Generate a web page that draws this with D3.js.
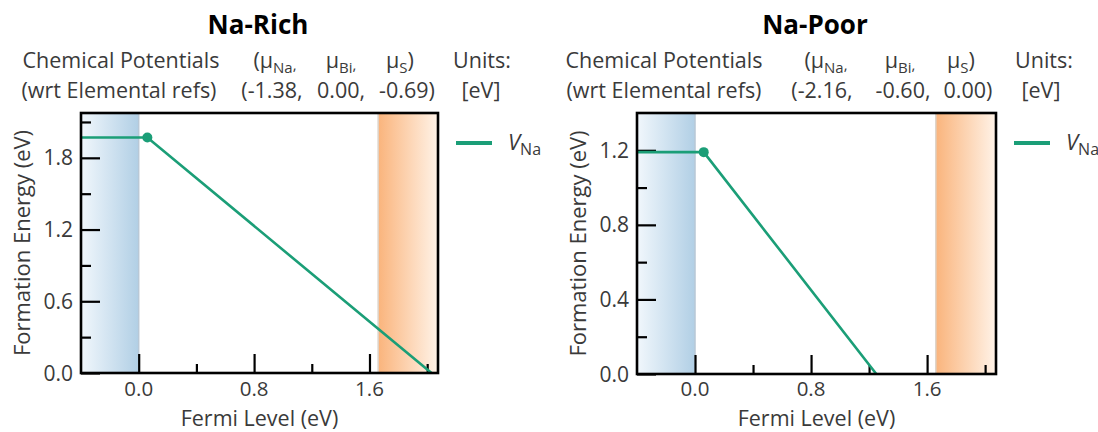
<!DOCTYPE html>
<html>
<head>
<meta charset="utf-8">
<script src="https://cdn.jsdelivr.net/npm/d3@7"></script>
<style>
  html, body { margin: 0; padding: 0; background: #fff; }
  svg { display: block; font-family: "Open Sans", "Noto Sans", sans-serif; }
</style>
</head>
<body>
<svg id="chart" width="1098" height="432"></svg>
<script>
// Conditions (one panel each)
const panelTitles = ["Na-Rich", "Na-Poor"];
const muNa = ["-1.38", "-2.16"];
const muBi = ["0.00", "-0.60"];
const muS  = ["-0.69", "0.00"];

// Fermi-level window and band gap (eV)
const fermiRange = [-0.4, 2.075];
const bandGap = 1.66;

// Formation-energy axis per panel
const energyMax = [2.175, 1.4];
const energyMajorTicks = [[0.0, 0.6, 1.2, 1.8], [0.0, 0.4, 0.8, 1.2]];
const energyMinorTicks = [[0.3, 0.9, 1.5, 2.1], [0.2, 0.6, 1.0]];
const fermiMajorTicks = [0.0, 0.8, 1.6];
const fermiMinorTicks = [0.4, 1.2, 2.0];

// V_Na formation energy: neutral segment, (0/-1) transition level, then q = -1
const vNaFermi  = [[-0.4, 0.06, 2.03], [-0.4, 0.06, 1.25]];
const vNaEnergy = [[1.97, 1.97, 0.0], [1.19, 1.19, 0.0]];
const vNaTransition = [1, 1]; // index of the transition point in each series

const lineColor = "#1b9e77";
const textColor = "#3a3a3a";

const svg = d3.select("#chart");
const defs = svg.append("defs");

const vbm = defs.append("linearGradient").attr("id", "vbmGrad")
  .attr("x1", "0%").attr("x2", "100%").attr("y1", "0%").attr("y2", "0%");
vbm.append("stop").attr("offset", "0%").attr("stop-color", "#f1f7fc");
vbm.append("stop").attr("offset", "100%").attr("stop-color", "#b1cfe5");

const cbm = defs.append("linearGradient").attr("id", "cbmGrad")
  .attr("x1", "0%").attr("x2", "100%").attr("y1", "0%").attr("y2", "0%");
cbm.append("stop").attr("offset", "0%").attr("stop-color", "#fab47c");
cbm.append("stop").attr("offset", "100%").attr("stop-color", "#fff3e8");

// Panel frames and header column centres
const frames = [
  { left: 81, right: 438, top: 113, bottom: 373 },
  { left: 637, right: 996, top: 113, bottom: 374 }
];
const headerCols = [
  { row1: [121, 275, 341, 400, 482], row2: [119, 272, 341, 407, 481], title: 258 },
  { row1: [664, 826, 900, 961, 1044], row2: [664, 822, 903, 968, 1041], title: 815 }
];

function drawPanel(i) {
  const f = frames[i];
  const g = svg.append("g");
  const x = d3.scaleLinear().domain(fermiRange).range([f.left, f.right]);
  const y = d3.scaleLinear().domain([0, energyMax[i]]).range([f.bottom, f.top]);

  const clipId = "clip" + i;
  defs.append("clipPath").attr("id", clipId)
    .append("rect").attr("x", f.left).attr("y", f.top)
    .attr("width", f.right - f.left).attr("height", f.bottom - f.top);

  // Valence band (below 0) and conduction band (above gap)
  g.append("rect")
    .attr("x", x(fermiRange[0])).attr("y", f.top)
    .attr("width", x(0) - x(fermiRange[0])).attr("height", f.bottom - f.top)
    .attr("fill", "url(#vbmGrad)");
  g.append("line")
    .attr("x1", x(0)).attr("x2", x(0)).attr("y1", f.top).attr("y2", f.bottom)
    .attr("stroke", "#b8c8d6").attr("stroke-width", 1.5);
  g.append("rect")
    .attr("x", x(bandGap)).attr("y", f.top)
    .attr("width", x(fermiRange[1]) - x(bandGap)).attr("height", f.bottom - f.top)
    .attr("fill", "url(#cbmGrad)");
  g.append("line")
    .attr("x1", x(bandGap)).attr("x2", x(bandGap)).attr("y1", f.top).attr("y2", f.bottom)
    .attr("stroke", "#ddd3ca").attr("stroke-width", 1.5);

  // Ticks drawn inward with d3 axes
  const yMajor = d3.axisLeft(y).tickValues(energyMajorTicks[i]).tickSize(-19).tickFormat("");
  const yMinor = d3.axisLeft(y).tickValues(energyMinorTicks[i]).tickSize(-10).tickFormat("");
  const xMajor = d3.axisBottom(x).tickValues(fermiMajorTicks).tickSize(-19).tickFormat("");
  const xMinor = d3.axisBottom(x).tickValues(fermiMinorTicks).tickSize(-9).tickFormat("");
  [[yMajor, `translate(${f.left},0)`], [yMinor, `translate(${f.left},0)`],
   [xMajor, `translate(0,${f.bottom})`], [xMinor, `translate(0,${f.bottom})`]].forEach(([ax, tr]) => {
    const a = g.append("g").attr("transform", tr).call(ax);
    a.select(".domain").remove();
    a.selectAll(".tick line").attr("stroke", "#000").attr("stroke-width", 2.2);
  });

  // Tick labels
  g.selectAll(".ylab").data(energyMajorTicks[i]).join("text")
    .attr("x", f.left - 8).attr("y", d => y(d) + 7.5)
    .attr("text-anchor", "end").attr("font-size", 21).attr("fill", textColor)
    .text(d => d.toFixed(1));
  g.selectAll(".xlab").data(fermiMajorTicks).join("text")
    .attr("x", d => x(d)).attr("y", 396)
    .attr("text-anchor", "middle").attr("font-size", 20.5).attr("fill", textColor)
    .text(d => d.toFixed(1));

  // Axis titles
  g.append("text")
    .attr("transform", `translate(${f.left - 51},${(f.top + f.bottom) / 2}) rotate(-90)`)
    .attr("text-anchor", "middle").attr("font-size", 22).attr("fill", textColor)
    .text("Formation Energy (eV)");
  g.append("text")
    .attr("x", (f.left + f.right) / 2).attr("y", 426)
    .attr("text-anchor", "middle").attr("font-size", 21.5).attr("fill", textColor)
    .text("Fermi Level (eV)");

  // V_Na line and transition point
  const pts = vNaFermi[i].map((e, k) => [e, vNaEnergy[i][k]]);
  const line = d3.line().x(d => x(d[0])).y(d => y(d[1]));
  g.append("path").datum(pts)
    .attr("clip-path", `url(#${clipId})`)
    .attr("d", line).attr("fill", "none")
    .attr("stroke", lineColor).attr("stroke-width", 2.6);
  const tp = pts[vNaTransition[i]];
  g.append("circle").attr("cx", x(tp[0])).attr("cy", y(tp[1])).attr("r", 5)
    .attr("fill", lineColor);

  // Frame
  g.append("rect")
    .attr("x", f.left).attr("y", f.top)
    .attr("width", f.right - f.left).attr("height", f.bottom - f.top)
    .attr("fill", "none").attr("stroke", "#000").attr("stroke-width", 2.6);

  // Legend
  const lx = f.right + 18;
  g.append("line").attr("x1", lx).attr("x2", lx + 36).attr("y1", 143).attr("y2", 143)
    .attr("stroke", lineColor).attr("stroke-width", 4);
  const lt = g.append("text").attr("x", lx + 52).attr("y", 150)
    .attr("fill", textColor).attr("font-size", 22);
  lt.append("tspan").attr("font-style", "italic").text("V");
  lt.append("tspan").attr("font-size", 16).attr("dy", 5).text("Na");

  // Title and chemical potential header
  const h = headerCols[i];
  g.append("text").attr("x", h.title).attr("y", 34)
    .attr("text-anchor", "middle").attr("font-size", 26).attr("font-weight", 700)
    .attr("fill", "#000").text(panelTitles[i]);

  const row1 = g.append("g").attr("font-size", 21.5).attr("fill", textColor).attr("text-anchor", "middle");
  row1.append("text").attr("x", h.row1[0]).attr("y", 68).text("Chemical Potentials");
  const mu = (xc, pre, sub, comma, post) => {
    const t = row1.append("text").attr("x", xc).attr("y", 68);
    t.append("tspan").text(pre + "\u03bc");
    t.append("tspan").attr("font-size", 15).attr("dy", 5).text(sub);
    if (comma) t.append("tspan").attr("font-size", 15).attr("dy", -3).text(",");
    t.append("tspan").attr("dy", comma ? -2 : -5).text(post);
  };
  mu(h.row1[1], "(", "Na", true, "");
  mu(h.row1[2], "", "Bi", true, "");
  mu(h.row1[3], "", "S", false, ")");
  row1.append("text").attr("x", h.row1[4]).attr("y", 68).text("Units:");

  const row2 = g.append("g").attr("font-size", 21.5).attr("fill", textColor).attr("text-anchor", "middle");
  row2.append("text").attr("x", h.row2[0]).attr("y", 98).text("(wrt Elemental refs)");
  row2.append("text").attr("x", h.row2[1]).attr("y", 98).text("(" + muNa[i] + ",");
  row2.append("text").attr("x", h.row2[2]).attr("y", 98).text(muBi[i] + ",");
  row2.append("text").attr("x", h.row2[3]).attr("y", 98).text(muS[i] + ")");
  row2.append("text").attr("x", h.row2[4]).attr("y", 98).text("[eV]");
}

panelTitles.forEach((_, i) => drawPanel(i));
</script>
</body>
</html>
